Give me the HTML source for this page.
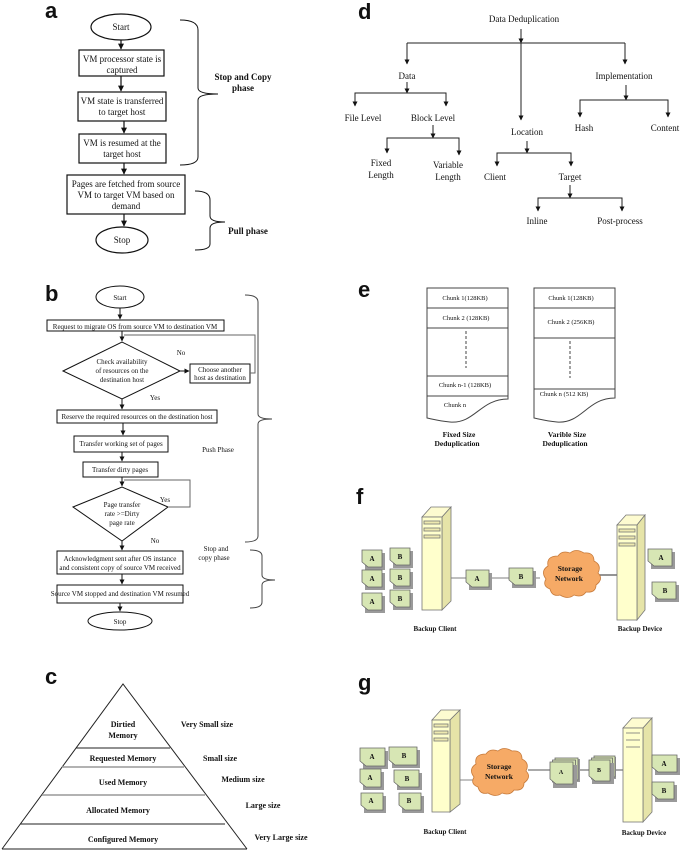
<!DOCTYPE html>
<html><head><meta charset="utf-8"><style>
html,body{margin:0;padding:0;background:#fff;}
svg{display:block;}
text{font-family:"Liberation Serif",serif;fill:#111;}
.lbl{font-family:"Liberation Sans",sans-serif;font-weight:bold;font-size:22px;}
.b{font-weight:bold;}
</style></head><body>
<svg width="685" height="850" viewBox="0 0 685 850" xmlns="http://www.w3.org/2000/svg">
<defs>
<marker id="ar" viewBox="0 0 10 10" refX="9" refY="5" markerWidth="5" markerHeight="5" orient="auto"><path d="M0,0 L10,5 L0,10 Z" fill="#111"/></marker>
</defs>

<!-- ===== Panel a ===== -->
<text class="lbl" x="45" y="18">a</text>
<g stroke="#111" fill="none" stroke-width="1.2">
<ellipse cx="121" cy="27" rx="30" ry="13" fill="#fff"/>
<rect x="79" y="50" width="85" height="26"/>
<rect x="78" y="92" width="88" height="29"/>
<rect x="79" y="134" width="87" height="29"/>
<rect x="67" y="175" width="118" height="39"/>
<ellipse cx="122" cy="240" rx="26" ry="13"/>
<line x1="121" y1="40" x2="121" y2="49" marker-end="url(#ar)"/>
<line x1="121" y1="76" x2="121" y2="91" marker-end="url(#ar)"/>
<line x1="124" y1="121" x2="124" y2="133" marker-end="url(#ar)"/>
<line x1="124" y1="163" x2="124" y2="174" marker-end="url(#ar)"/>
<line x1="124" y1="214" x2="124" y2="226" marker-end="url(#ar)"/>
<path d="M180,20 Q198,20 198,30 L198,88 Q198,94 218,94 Q198,94 198,100 L198,157 Q198,165 180,165" stroke-width="1"/>
<path d="M195,191 Q210,191 210,200 L210,216 Q210,222 225,222 Q210,222 210,228 L210,244 Q210,250 195,250" stroke-width="1"/>
</g>
<g font-size="9" text-anchor="middle">
<text x="121" y="30">Start</text>
<text x="122" y="62">VM processor state is</text><text x="122" y="73">captured</text>
<text x="122" y="104">VM state is transferred</text><text x="122" y="115">to target host</text>
<text x="122" y="146">VM is resumed at the</text><text x="122" y="157">target host</text>
<text x="126" y="187">Pages are fetched from source</text><text x="126" y="198">VM to target VM based on</text><text x="126" y="209">demand</text>
<text x="122" y="243">Stop</text>
<text class="b" x="243" y="80">Stop and Copy</text><text class="b" x="243" y="91">phase</text>
<text class="b" x="248" y="234">Pull phase</text>
</g>

<!-- ===== Panel b ===== -->
<text class="lbl" x="45" y="301">b</text>
<g stroke="#111" fill="none" stroke-width="1">
<ellipse cx="120" cy="297" rx="24" ry="11"/>
<rect x="47" y="320" width="177" height="11"/>
<polygon points="63,371 122,342 180,371 122,399"/>
<rect x="190" y="364" width="60" height="19"/>
<rect x="57" y="410" width="160" height="13"/>
<rect x="74" y="436" width="94" height="16"/>
<rect x="83" y="462" width="75" height="15"/>
<polygon points="73,507 122,487 168,507 122,541"/>
<rect x="57" y="551" width="126" height="23"/>
<rect x="57" y="585" width="126" height="18"/>
<ellipse cx="120" cy="621" rx="32" ry="9"/>
<line x1="120" y1="308" x2="120" y2="319" marker-end="url(#ar)"/>
<line x1="122" y1="331" x2="122" y2="341" marker-end="url(#ar)"/>
<line x1="180" y1="371" x2="189" y2="371" marker-end="url(#ar)"/>
<polyline points="250,373 255,373 255,335 124,335" stroke="#666"/>
<line x1="122" y1="399" x2="122" y2="409" marker-end="url(#ar)"/>
<line x1="123" y1="423" x2="123" y2="435" marker-end="url(#ar)"/>
<line x1="122" y1="452" x2="122" y2="461" marker-end="url(#ar)"/>
<line x1="122" y1="477" x2="122" y2="486" marker-end="url(#ar)"/>
<polyline points="168,507 190,507 190,480 124,480" stroke="#666"/>
<line x1="122" y1="541" x2="122" y2="550" marker-end="url(#ar)"/>
<line x1="122" y1="574" x2="122" y2="584" marker-end="url(#ar)"/>
<line x1="120" y1="603" x2="120" y2="611" marker-end="url(#ar)"/>
<path d="M245,295 Q258,295 258,302 L258,414 Q258,419 272,419 Q258,419 258,424 L258,536 Q258,542 245,542" stroke="#444"/>
<path d="M250,550 Q262,550 262,556 L262,575 Q262,580 275,580 Q262,580 262,585 L262,602 Q262,608 250,608" stroke="#444"/>
</g>
<g font-size="7" text-anchor="middle">
<text x="120" y="300">Start</text>
<text x="135" y="329">Request to migrate OS from source VM to destination VM</text>
<text x="122" y="364">Check availability</text><text x="122" y="373">of resources on the</text><text x="122" y="382">destination host</text>
<text x="220" y="372">Choose another</text><text x="220" y="380">host as destination</text>
<text x="181" y="355">No</text><text x="155" y="400">Yes</text>
<text x="137" y="419">Reserve the required resources on the destination host</text>
<text x="121" y="446">Transfer working set of pages</text>
<text x="120" y="472">Transfer dirty pages</text>
<text x="122" y="507">Page transfer</text><text x="122" y="516">rate &gt;=Dirty</text><text x="122" y="525">page rate</text>
<text x="165" y="502">Yes</text><text x="155" y="543">No</text>
<text x="120" y="561">Acknowledgment sent after OS instance</text><text x="120" y="570">and consistent copy of source VM received</text>
<text x="120" y="596">Source VM stopped and destination VM resumed</text>
<text x="120" y="624">Stop</text>
<text x="218" y="452">Push Phase</text>
<text x="216" y="551">Stop and</text><text x="214" y="560">copy phase</text>
</g>

<!-- ===== Panel c ===== -->
<text class="lbl" x="45" y="684">c</text>
<g stroke="#222" fill="none" stroke-width="1">
<polyline points="2,849 123,684 247,849"/>
<line x1="2" y1="849" x2="247" y2="849"/>
<line x1="76" y1="748" x2="170" y2="748"/>
<line x1="62" y1="767" x2="184" y2="767" stroke="#999" stroke-width="1.5"/>
<line x1="42" y1="795" x2="205" y2="795" stroke="#999" stroke-width="1.5"/>
<line x1="20" y1="824" x2="225" y2="824"/>
</g>
<g font-size="8" class="b" text-anchor="middle" font-weight="bold">
<text x="123" y="727">Dirtied</text><text x="123" y="738">Memory</text>
<text x="123" y="761">Requested Memory</text>
<text x="123" y="785">Used Memory</text>
<text x="118" y="813">Allocated Memory</text>
<text x="123" y="842">Configured Memory</text>
<text x="207" y="727">Very Small size</text>
<text x="220" y="761">Small size</text>
<text x="243" y="782">Medium size</text>
<text x="263" y="808">Large size</text>
<text x="281" y="840">Very Large size</text>
</g>

<!-- ===== Panel d ===== -->
<text class="lbl" x="358" y="19">d</text>
<g stroke="#222" fill="none" stroke-width="1">
<line x1="521" y1="29" x2="521" y2="43" marker-end="url(#ar)"/>
<line x1="407" y1="43" x2="625" y2="43"/>
<line x1="407" y1="43" x2="407" y2="64" marker-end="url(#ar)"/>
<line x1="521" y1="43" x2="521" y2="120" marker-end="url(#ar)"/>
<line x1="625" y1="43" x2="625" y2="64" marker-end="url(#ar)"/>
<line x1="407" y1="82" x2="407" y2="93" marker-end="url(#ar)"/>
<polyline points="355,105 355,93 446,93 446,105"/>
<line x1="355" y1="100" x2="355" y2="106" marker-end="url(#ar)"/>
<line x1="446" y1="100" x2="446" y2="106" marker-end="url(#ar)"/>
<line x1="433" y1="125" x2="433" y2="138" marker-end="url(#ar)"/>
<polyline points="387,152 387,138 459,138 459,152"/>
<line x1="387" y1="146" x2="387" y2="153" marker-end="url(#ar)"/>
<line x1="459" y1="146" x2="459" y2="155" marker-end="url(#ar)"/>
<line x1="527" y1="141" x2="527" y2="153" marker-end="url(#ar)"/>
<polyline points="497,165 497,153 571,153 571,165"/>
<line x1="497" y1="160" x2="497" y2="166" marker-end="url(#ar)"/>
<line x1="571" y1="160" x2="571" y2="166" marker-end="url(#ar)"/>
<line x1="570" y1="185" x2="570" y2="198" marker-end="url(#ar)"/>
<polyline points="538,210 538,198 622,198 622,210"/>
<line x1="538" y1="204" x2="538" y2="211" marker-end="url(#ar)"/>
<line x1="622" y1="204" x2="622" y2="211" marker-end="url(#ar)"/>
<line x1="626" y1="85" x2="626" y2="100" marker-end="url(#ar)"/>
<polyline points="580,116 580,100 668,100 668,116"/>
<line x1="580" y1="110" x2="580" y2="117" marker-end="url(#ar)"/>
<line x1="668" y1="110" x2="668" y2="117" marker-end="url(#ar)"/>
</g>
<g font-size="9" text-anchor="middle">
<text x="524" y="22">Data Deduplication</text>
<text x="407" y="79">Data</text>
<text x="363" y="121">File Level</text><text x="433" y="121">Block Level</text>
<text x="381" y="166">Fixed</text><text x="381" y="178">Length</text>
<text x="448" y="168">Variable</text><text x="448" y="180">Length</text>
<text x="527" y="135">Location</text>
<text x="495" y="180">Client</text><text x="570" y="180">Target</text>
<text x="537" y="224">Inline</text><text x="620" y="224">Post-process</text>
<text x="624" y="79">Implementation</text>
<text x="584" y="131">Hash</text><text x="665" y="131">Content</text>
</g>

<!-- ===== Panel e ===== -->
<text class="lbl" x="358" y="297">e</text>
<g stroke="#444" fill="none" stroke-width="1">
<path d="M427,288 H508 V399 C480,399 475,424 450,422 C440,421 432,419 427,418 Z"/>
<line x1="427" y1="308" x2="508" y2="308"/><line x1="427" y1="328" x2="508" y2="328"/>
<line x1="427" y1="376" x2="508" y2="376"/><line x1="427" y1="396" x2="508" y2="396"/>
<line x1="466" y1="331" x2="466" y2="368" stroke-dasharray="3,2"/>
<path d="M534,288 H615 V398 C587,398 582,424 557,422 C547,421 539,419 534,418 Z"/>
<line x1="534" y1="308" x2="615" y2="308"/><line x1="534" y1="338" x2="615" y2="338"/>
<line x1="534" y1="389" x2="615" y2="389"/>
<line x1="570" y1="341" x2="570" y2="378" stroke-dasharray="3,2"/>
</g>
<g font-size="6.5" text-anchor="middle">
<text x="465" y="300">Chunk 1(128KB)</text><text x="466" y="320">Chunk 2 (128KB)</text>
<text x="465" y="387">Chunk n-1 (128KB)</text><text x="455" y="407">Chunk n</text>
<text x="571" y="300">Chunk 1(128KB)</text><text x="571" y="324">Chunk 2 (256KB)</text>
<text x="564" y="396">Chunk n (512 KB)</text>
</g>
<g font-size="7.5" font-weight="bold" text-anchor="middle">
<text x="459" y="437">Fixed Size</text><text x="457" y="446">Deduplication</text>
<text x="567" y="437">Varible Size</text><text x="565" y="446">Deduplication</text>
</g>

<!-- ===== Panel f ===== -->
<text class="lbl" x="356" y="504">f</text>
<g stroke="#999" stroke-width="1.2">
<line x1="451" y1="578" x2="540" y2="578"/>
<line x1="598" y1="575" x2="617" y2="575" stroke="#555"/>
</g>
<g stroke="#777" stroke-width="0.8">
<!-- client tower -->
<polygon points="422,517 431,507 451,507 442,517" fill="#fdfbd0"/>
<polygon points="442,517 451,507 451,601 442,610" fill="#e6e4a8"/>
<rect x="422" y="517" width="20" height="93" fill="#ffffcc"/>
<rect x="424" y="521" width="16" height="3" fill="#eee9b0"/><rect x="424" y="528" width="16" height="3" fill="#eee9b0"/><rect x="424" y="535" width="16" height="3" fill="#eee9b0"/>
<!-- device tower -->
<polygon points="617,525 626,515 645,515 637,525" fill="#fdfbd0"/>
<polygon points="637,525 645,515 645,610 637,620" fill="#e6e4a8"/>
<rect x="617" y="525" width="20" height="95" fill="#ffffcc"/>
<rect x="619" y="529" width="16" height="3" fill="#eee9b0"/><rect x="619" y="536" width="16" height="3" fill="#eee9b0"/><rect x="619" y="543" width="16" height="3" fill="#eee9b0"/>
</g>
<g stroke="#666" stroke-width="0.8" fill="#d7e6b4">
<rect x="365" y="553" width="20" height="17" fill="#9a9a9a" stroke="none"/><path d="M362,550 h20 v17 h-14 l-6,-5 z"/>
<rect x="393" y="551" width="20" height="17" fill="#9a9a9a" stroke="none"/><path d="M390,548 h20 v17 h-14 l-6,-5 z"/>
<rect x="365" y="573" width="20" height="17" fill="#9a9a9a" stroke="none"/><path d="M362,570 h20 v17 h-14 l-6,-5 z"/>
<rect x="393" y="572" width="20" height="17" fill="#9a9a9a" stroke="none"/><path d="M390,569 h20 v17 h-14 l-6,-5 z"/>
<rect x="365" y="596" width="20" height="17" fill="#9a9a9a" stroke="none"/><path d="M362,593 h20 v17 h-14 l-6,-5 z"/>
<rect x="393" y="593" width="20" height="17" fill="#9a9a9a" stroke="none"/><path d="M390,590 h20 v17 h-14 l-6,-5 z"/>
<rect x="469" y="573" width="23" height="17" fill="#9a9a9a" stroke="none"/><path d="M466,570 h23 v17 h-17 l-6,-5 z"/>
<rect x="512" y="571" width="24" height="17" fill="#9a9a9a" stroke="none"/><path d="M509,568 h24 v17 h-18 l-6,-5 z"/>
<rect x="651" y="552" width="24" height="17" fill="#9a9a9a" stroke="none"/><path d="M648,549 h24 v17 h-18 l-6,-5 z"/>
<rect x="655" y="585" width="24" height="17" fill="#9a9a9a" stroke="none"/><path d="M652,582 h24 v17 h-18 l-6,-5 z"/>
</g>
<path d="M548,566 q-2,-10 10,-10 q4,-6 12,-3 q6,-5 14,0 q10,-1 10,8 q8,4 4,12 q6,6 -2,12 q0,8 -10,7 q-4,6 -12,3 q-6,5 -14,0 q-8,2 -10,-6 q-8,-3 -4,-10 q-6,-8 2,-13 z" fill="#f6aa66" stroke="#c77a3a" stroke-width="0.8"/>
<g font-size="7" font-weight="bold" text-anchor="middle">
<text x="372" y="561">A</text><text x="400" y="559">B</text>
<text x="372" y="581">A</text><text x="400" y="580">B</text>
<text x="372" y="604">A</text><text x="400" y="601">B</text>
<text x="477" y="581">A</text><text x="521" y="579">B</text>
<text x="661" y="560">A</text><text x="665" y="593">B</text>
<text x="570" y="571" font-size="7.5">Storage</text><text x="569" y="581" font-size="7.5">Network</text>
<text x="435" y="631">Backup Client</text><text x="640" y="631">Backup Device</text>
</g>

<!-- ===== Panel g ===== -->
<text class="lbl" x="358" y="690">g</text>
<g stroke="#999" stroke-width="1.2">
<line x1="460" y1="780" x2="476" y2="780"/>
<line x1="528" y1="770" x2="623" y2="770" stroke="#777"/>
</g>
<g stroke="#777" stroke-width="0.8">
<polygon points="432,720 441,710 460,710 450,720" fill="#fdfbd0"/>
<polygon points="450,720 460,710 460,804 450,812" fill="#e6e4a8"/>
<rect x="432" y="720" width="18" height="92" fill="#ffffcc"/>
<rect x="434" y="724" width="14" height="3" fill="#eee9b0"/><rect x="434" y="731" width="14" height="3" fill="#eee9b0"/><rect x="434" y="738" width="14" height="3" fill="#eee9b0"/>
<polygon points="623,728 632,718 652,718 643,728" fill="#fdfbd0"/>
<polygon points="643,728 652,718 652,812 643,822" fill="#e6e4a8"/>
<rect x="623" y="728" width="20" height="94" fill="#ffffcc"/>
<line x1="626" y1="733" x2="640" y2="733"/><line x1="626" y1="740" x2="640" y2="740"/><line x1="626" y1="747" x2="640" y2="747"/>
</g>
<g stroke="#666" stroke-width="0.8" fill="#d7e6b4">
<rect x="363" y="751" width="25" height="18" fill="#9a9a9a" stroke="none"/><path d="M360,748 h25 v18 h-19 l-6,-5 z"/>
<rect x="392" y="750" width="28" height="18" fill="#9a9a9a" stroke="none"/><path d="M389,747 h28 v18 h-22 l-6,-5 z"/>
<rect x="363" y="772" width="21" height="18" fill="#9a9a9a" stroke="none"/><path d="M360,769 h21 v18 h-15 l-6,-5 z"/>
<rect x="397" y="773" width="25" height="17" fill="#9a9a9a" stroke="none"/><path d="M394,770 h25 v17 h-19 l-6,-5 z"/>
<rect x="364" y="796" width="22" height="17" fill="#9a9a9a" stroke="none"/><path d="M361,793 h22 v17 h-16 l-6,-5 z"/>
<rect x="402" y="796" width="22" height="17" fill="#9a9a9a" stroke="none"/><path d="M399,793 h22 v17 h-16 l-6,-5 z"/>
<!-- stacks -->
<rect x="556" y="759" width="24" height="23" fill="#9a9a9a" stroke="none"/>
<rect x="555" y="758" width="23" height="22"/><rect x="552.5" y="760" width="23" height="22"/>
<rect x="553" y="765" width="24" height="23" fill="#9a9a9a" stroke="none"/><path d="M550,762 h23 v22 h-17 l-6,-5 z"/>
<rect x="594" y="757" width="22" height="22" fill="#9a9a9a" stroke="none"/>
<rect x="594" y="756" width="21" height="21"/><rect x="591.5" y="758" width="21" height="21"/>
<rect x="592" y="763" width="22" height="21" fill="#9a9a9a" stroke="none"/><path d="M589,760 h21 v21 h-15 l-6,-5 z"/>
<rect x="655" y="758" width="25" height="17" fill="#9a9a9a" stroke="none"/><path d="M652,755 h25 v17 h-19 l-6,-5 z"/>
<rect x="655" y="785" width="22" height="17" fill="#9a9a9a" stroke="none"/><path d="M652,782 h22 v17 h-16 l-6,-5 z"/>
</g>
<path d="M476,764 q-2,-10 10,-10 q4,-6 12,-3 q6,-5 14,0 q10,-1 10,8 q8,4 4,12 q6,6 -2,12 q0,8 -10,7 q-4,6 -12,3 q-6,5 -14,0 q-8,2 -10,-6 q-8,-3 -4,-10 q-6,-8 2,-13 z" fill="#f6aa66" stroke="#c77a3a" stroke-width="0.8"/>
<g font-size="7" font-weight="bold" text-anchor="middle">
<text x="372" y="759">A</text><text x="404" y="758">B</text>
<text x="370" y="780">A</text><text x="407" y="781">B</text>
<text x="371" y="803">A</text><text x="409" y="803">B</text>
<text x="561" y="774" font-size="6">A</text><text x="599" y="772" font-size="6">B</text>
<text x="664" y="766">A</text><text x="664" y="793">B</text>
<text x="499" y="769" font-size="7.5">Storage</text><text x="499" y="779" font-size="7.5">Network</text>
<text x="445" y="834">Backup Client</text><text x="644" y="835">Backup Device</text>
</g>
</svg>
</body></html>
